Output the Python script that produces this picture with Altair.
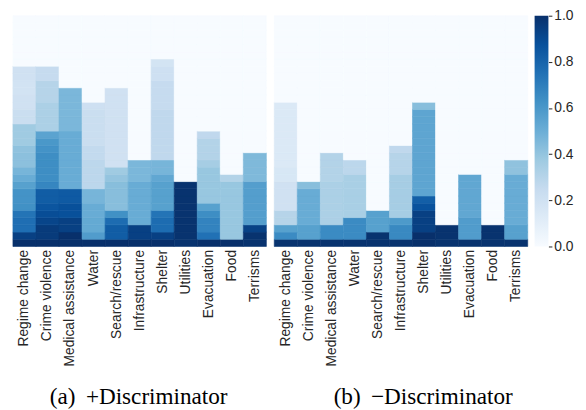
import altair as alt
import pandas as pd

categories = ["Regime change", "Crime violence", "Medical assistance", "Water",
              "Search/rescue", "Infrastructure", "Shelter", "Utilities",
              "Evacuation", "Food", "Terrisms"]
n_rows = 32

# cell values per column, from the bottom row upwards (rows above are 0)
plus_regime = [1.0, 0.94, 0.76, 0.76, 0.74, 0.63, 0.62, 0.62, 0.56, 0.51, 0.47, 0.42, 0.42,
               0.41, 0.37, 0.37, 0.37, 0.23, 0.23, 0.2, 0.2, 0.19, 0.19, 0.2, 0.2]
plus_crime = [1.0, 0.96, 0.96, 0.92, 0.89, 0.86, 0.83, 0.83, 0.67, 0.64, 0.64, 0.64, 0.64,
              0.62, 0.6, 0.55, 0.33, 0.33, 0.33, 0.33, 0.3, 0.3, 0.3, 0.25, 0.25]
plus_medical = [1.0, 1.0, 0.94, 0.94, 0.88, 0.88, 0.84, 0.84, 0.51, 0.51, 0.51, 0.51, 0.51,
                0.51, 0.51, 0.51, 0.46, 0.46, 0.46, 0.46, 0.46, 0.46]
plus_water = [1.0, 0.58, 0.52, 0.52, 0.51, 0.51, 0.47, 0.47, 0.28, 0.28, 0.28, 0.28, 0.26,
              0.26, 0.23, 0.23, 0.23, 0.23, 0.23, 0.21]
plus_search = [1.0, 0.83, 0.83, 0.77, 0.63, 0.43, 0.43, 0.43, 0.43, 0.4, 0.37, 0.2, 0.2,
               0.2, 0.2, 0.2, 0.2, 0.2, 0.2, 0.2, 0.2, 0.2]
plus_infra = [1.0, 0.94, 0.94, 0.51, 0.51, 0.51, 0.51, 0.51, 0.51, 0.46, 0.46, 0.46]
plus_shelter = [1.0, 0.94, 0.77, 0.77, 0.74, 0.56, 0.56, 0.56, 0.56, 0.53, 0.47, 0.47, 0.27,
                0.27, 0.27, 0.27, 0.27, 0.27, 0.27, 0.25, 0.25, 0.25, 0.25, 0.21, 0.21, 0.18]
plus_utilities = [0.99, 0.99, 0.99, 0.99, 0.99, 0.99, 0.99, 0.99, 0.99]
plus_evacuation = [1.0, 0.75, 0.68, 0.68, 0.64, 0.56, 0.39, 0.39, 0.39, 0.39, 0.39, 0.35,
                   0.31, 0.31, 0.31, 0.27]
plus_food = [1.0, 0.39, 0.39, 0.39, 0.39, 0.39, 0.39, 0.39, 0.39, 0.31]
plus_terror = [0.99, 0.99, 0.93, 0.57, 0.57, 0.57, 0.57, 0.57, 0.57, 0.45, 0.45, 0.45, 0.45]

minus_regime = [0.99, 0.65, 0.56, 0.3, 0.3, 0.2, 0.2, 0.2, 0.2, 0.16, 0.16, 0.14, 0.14,
                0.14, 0.14, 0.14, 0.14, 0.14, 0.14, 0.14]
minus_crime = [0.99, 0.56, 0.56, 0.51, 0.51, 0.51, 0.51, 0.51, 0.43]
minus_medical = [0.99, 0.65, 0.65, 0.33, 0.33, 0.33, 0.33, 0.33, 0.33, 0.31, 0.31, 0.31, 0.31]
minus_water = [0.99, 0.65, 0.65, 0.65, 0.34, 0.34, 0.34, 0.34, 0.34, 0.34, 0.28, 0.28]
minus_search = [0.99, 0.99, 0.56, 0.56, 0.56]
minus_infra = [0.99, 0.66, 0.66, 0.59, 0.35, 0.35, 0.35, 0.35, 0.35, 0.35, 0.3, 0.3, 0.3, 0.27]
minus_shelter = [1.0, 1.0, 0.94, 0.94, 0.94, 0.87, 0.82, 0.54, 0.54, 0.54, 0.54, 0.54, 0.54,
                 0.54, 0.54, 0.54, 0.54, 0.54, 0.54, 0.43]
minus_utilities = [0.99, 0.99, 0.99]
minus_evacuation = [0.99, 0.58, 0.58, 0.58, 0.53, 0.53, 0.53, 0.53, 0.53, 0.53]
minus_food = [0.99, 0.99, 0.99]
minus_terror = [0.99, 0.56, 0.56, 0.51, 0.51, 0.51, 0.51, 0.51, 0.51, 0.51, 0.41, 0.41]

plus_cols = [plus_regime, plus_crime, plus_medical, plus_water, plus_search, plus_infra,
             plus_shelter, plus_utilities, plus_evacuation, plus_food, plus_terror]
minus_cols = [minus_regime, minus_crime, minus_medical, minus_water, minus_search, minus_infra,
              minus_shelter, minus_utilities, minus_evacuation, minus_food, minus_terror]

blues = ["#f7fbff", "#deebf7", "#c6dbef", "#9ecae1", "#6baed6",
         "#4292c6", "#2171b5", "#08519c", "#08306b"]
tick_values = [0.0, 0.2, 0.4, 0.6, 0.8, 1.0]


def to_frame(cols):
    recs = []
    for cat, vals in zip(categories, cols):
        for r in range(n_rows):
            recs.append({"cat": cat, "row": r, "v": vals[r] if r < len(vals) else 0.0})
    return pd.DataFrame(recs)


color_scale = alt.Scale(domain=[0, 1], range=blues, interpolate="rgb")
W, H = 257, 234
LABEL_SIZE = 14


def panel(df, caption, dx):
    return alt.Chart(df).mark_rect(strokeWidth=0.6).encode(
        x=alt.X("cat:N", sort=categories, title=None,
                axis=alt.Axis(labelAngle=-90, labelFont="Liberation Sans",
                              labelFontSize=LABEL_SIZE, labelColor="#262626",
                              domain=False, ticks=False, labelPadding=3)),
        y=alt.Y("row:O", sort="descending", axis=None),
        color=alt.Color("v:Q", scale=color_scale, legend=None),
        stroke=alt.Stroke("v:Q", scale=color_scale, legend=None),
    ).properties(
        width=W, height=H,
        title=alt.TitleParams(caption, orient="bottom", font="Liberation Serif", fontSize=23.5,
                              fontWeight="normal", color="black", offset=19, dx=dx,
                              anchor="middle"),
    )


left = panel(to_frame(plus_cols), "(a) \u2009+Discriminator", -1)
right = panel(to_frame(minus_cols), "(b) \u2009\u2212Discriminator", 22.5)

bar_df = pd.DataFrame({"lo": [0.0], "hi": [1.0]})
grad = alt.LinearGradient(
    gradient="linear",
    stops=[alt.GradientStop(color=c, offset=i / (len(blues) - 1)) for i, c in enumerate(blues)],
    x1=0, x2=0, y1=1, y2=0)
colorbar = alt.Chart(bar_df).mark_rect(color=grad).encode(
    x=alt.value(0), x2=alt.value(14),
    y=alt.Y("lo:Q", scale=alt.Scale(domain=[0, 1], nice=False), title=None,
            axis=alt.Axis(orient="right", values=tick_values, format=".1f", domain=False,
                          grid=False, tickSize=3.5, tickColor="#262626",
                          labelFontSize=LABEL_SIZE, labelFont="Liberation Sans",
                          labelColor="#262626", labelPadding=2)),
    y2="hi:Q",
).properties(width=14, height=H)

chart = alt.hconcat(left, right, colorbar, spacing=6).properties(
    padding={"left": 4, "top": -2, "right": 5, "bottom": 0}
).configure_view(stroke=None)

chart.save("out.html", embed_options={"renderer": "svg", "actions": False})
